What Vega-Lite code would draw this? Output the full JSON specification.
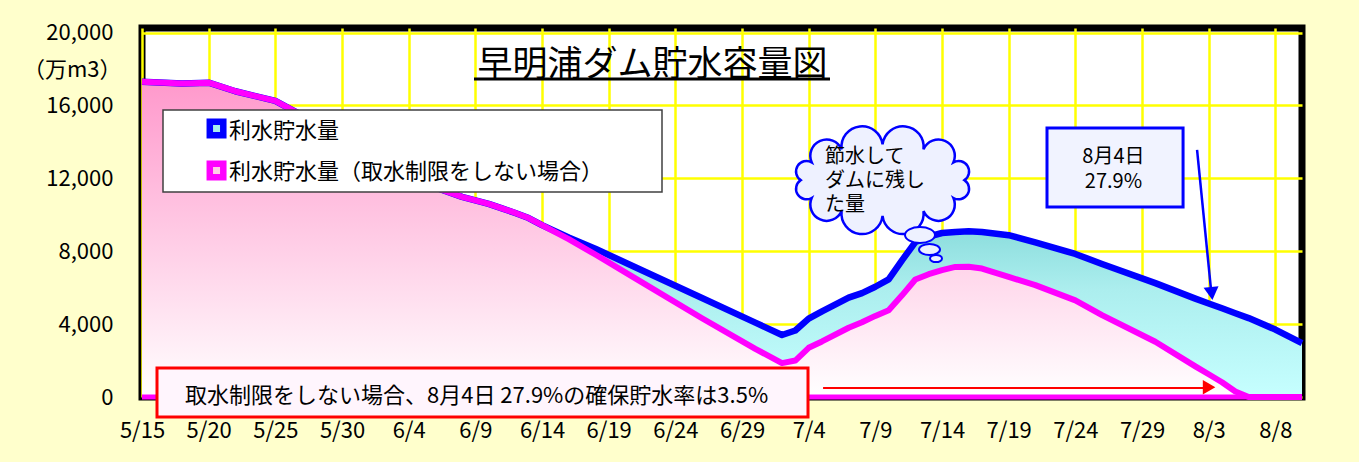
{
  "$schema": "https://vega.github.io/schema/vega-lite/v6.json",
  "width": 1160,
  "height": 369,
  "autosize": {"type": "none"},
  "padding": {"left": 142, "top": 28, "right": 57, "bottom": 65},
  "background": "#FFFFCC",
  "config": {
    "font": "Noto Sans CJK JP",
    "view": {"fill": "#FFFFFF", "stroke": "#000000", "strokeWidth": 7}
  },
  "datasets": {
    "storage": [
      {"date": "2005-05-15T00:00", "actual": 17300, "unrestricted": 17300},
      {"date": "2005-05-18T00:00", "actual": 17200, "unrestricted": 17200},
      {"date": "2005-05-20T00:00", "actual": 17250, "unrestricted": 17250},
      {"date": "2005-05-22T00:00", "actual": 16780, "unrestricted": 16780},
      {"date": "2005-05-25T00:00", "actual": 16250, "unrestricted": 16250},
      {"date": "2005-05-26T00:00", "actual": 15850, "unrestricted": 15850},
      {"date": "2005-05-31T00:00", "actual": 13900, "unrestricted": 13900},
      {"date": "2005-06-06T00:00", "actual": 11500, "unrestricted": 11500},
      {"date": "2005-06-08T00:00", "actual": 10980, "unrestricted": 10980},
      {"date": "2005-06-10T00:00", "actual": 10600, "unrestricted": 10600},
      {"date": "2005-06-11T00:00", "actual": 10350, "unrestricted": 10350},
      {"date": "2005-06-12T00:00", "actual": 10100, "unrestricted": 10100},
      {"date": "2005-06-13T00:00", "actual": 9820, "unrestricted": 9820},
      {"date": "2005-06-14T00:00", "actual": 9430, "unrestricted": 9430},
      {"date": "2005-06-16T00:00", "actual": 8750, "unrestricted": 8660},
      {"date": "2005-06-18T00:00", "actual": 8140, "unrestricted": 7820},
      {"date": "2005-06-21T00:00", "actual": 7120, "unrestricted": 6510},
      {"date": "2005-06-26T00:00", "actual": 5430, "unrestricted": 4320},
      {"date": "2005-06-30T00:00", "actual": 4080, "unrestricted": 2640},
      {"date": "2005-07-02T00:00", "actual": 3400, "unrestricted": 1860},
      {"date": "2005-07-03T00:00", "actual": 3650, "unrestricted": 2000},
      {"date": "2005-07-04T00:00", "actual": 4300, "unrestricted": 2700},
      {"date": "2005-07-05T00:00", "actual": 4700, "unrestricted": 3050},
      {"date": "2005-07-07T00:00", "actual": 5450, "unrestricted": 3800},
      {"date": "2005-07-08T00:00", "actual": 5700, "unrestricted": 4100},
      {"date": "2005-07-09T00:00", "actual": 6050, "unrestricted": 4450},
      {"date": "2005-07-10T00:00", "actual": 6450, "unrestricted": 4760},
      {"date": "2005-07-11T00:00", "actual": 7500, "unrestricted": 5580},
      {"date": "2005-07-12T00:00", "actual": 8500, "unrestricted": 6450},
      {"date": "2005-07-13T00:00", "actual": 8800, "unrestricted": 6740},
      {"date": "2005-07-14T00:00", "actual": 9000, "unrestricted": 6960},
      {"date": "2005-07-15T00:00", "actual": 9060, "unrestricted": 7140},
      {"date": "2005-07-16T00:00", "actual": 9090, "unrestricted": 7150},
      {"date": "2005-07-17T00:00", "actual": 9050, "unrestricted": 7050},
      {"date": "2005-07-19T00:00", "actual": 8880, "unrestricted": 6590},
      {"date": "2005-07-21T00:00", "actual": 8480, "unrestricted": 6140},
      {"date": "2005-07-24T00:00", "actual": 7850, "unrestricted": 5300},
      {"date": "2005-07-26T00:00", "actual": 7300, "unrestricted": 4490},
      {"date": "2005-07-30T00:00", "actual": 6250, "unrestricted": 3030},
      {"date": "2005-08-02T00:00", "actual": 5400, "unrestricted": 1680},
      {"date": "2005-08-03T00:00", "actual": 5130, "unrestricted": 1250},
      {"date": "2005-08-04T00:00", "actual": 4870, "unrestricted": 810},
      {"date": "2005-08-05T00:00", "actual": 4600, "unrestricted": 300},
      {"date": "2005-08-06T00:00", "actual": 4330, "unrestricted": 0},
      {"date": "2005-08-08T00:00", "actual": 3700, "unrestricted": 0},
      {"date": "2005-08-10T00:00", "actual": 2960, "unrestricted": 0}
    ]
  },
  "layer": [
    {
      "data": {"name": "storage"},
      "transform": [{"filter": {"field": "date", "gte": {"year": 2005, "month": 6, "date": 13}}}],
      "mark": {"type": "area", "fill": {"gradient": "linear", "x1": 0, "y1": 0, "x2": 0, "y2": 1, "stops": [{"offset": 0, "color": "#86DADA"}, {"offset": 0.4, "color": "#ACEEEE"}, {"offset": 1, "color": "#C6FFFF"}]}},
      "encoding": {
        "x": {
          "field": "date", "type": "temporal",
          "scale": {"domain": [{"year": 2005, "month": 5, "date": 15}, {"year": 2005, "month": 8, "date": 10}]},
          "axis": {
            "title": null, "format": "%-m/%-d", "labelOverlap": false,
            "values": [
              {"year": 2005, "month": 5, "date": 15}, {"year": 2005, "month": 5, "date": 20},
              {"year": 2005, "month": 5, "date": 25}, {"year": 2005, "month": 5, "date": 30},
              {"year": 2005, "month": 6, "date": 4}, {"year": 2005, "month": 6, "date": 9},
              {"year": 2005, "month": 6, "date": 14}, {"year": 2005, "month": 6, "date": 19},
              {"year": 2005, "month": 6, "date": 24}, {"year": 2005, "month": 6, "date": 29},
              {"year": 2005, "month": 7, "date": 4}, {"year": 2005, "month": 7, "date": 9},
              {"year": 2005, "month": 7, "date": 14}, {"year": 2005, "month": 7, "date": 19},
              {"year": 2005, "month": 7, "date": 24}, {"year": 2005, "month": 7, "date": 29},
              {"year": 2005, "month": 8, "date": 3}, {"year": 2005, "month": 8, "date": 8}
            ],
            "grid": true, "gridColor": "#FFFF00", "gridWidth": 2.5, "gridOpacity": 1,
            "ticks": false, "domain": false,
            "labelFontSize": 22, "labelColor": "#000000", "labelPadding": 23, "labelFlush": false
          }
        },
        "y": {
          "field": "actual", "type": "quantitative",
          "scale": {"domain": [0, 20250], "nice": false},
          "axis": {
            "title": "（万m3）", "titleAngle": 0, "titleAlign": "right", "titleBaseline": "middle",
            "titleX": -21, "titleY": 41, "titleFontSize": 22, "titleFontWeight": "normal", "titleColor": "#000000",
            "values": [0, 4000, 8000, 12000, 16000, 20000], "format": ",d",
            "grid": true, "gridColor": "#FFFF00", "gridWidth": 2.5, "gridOpacity": 1,
            "ticks": false, "domain": false,
            "labelFontSize": 22, "labelColor": "#000000", "labelPadding": 29
          }
        },
        "y2": {"field": "unrestricted"}
      }
    },
    {
      "data": {"name": "storage"},
      "mark": {"type": "area", "fill": {"gradient": "linear", "x1": 0, "y1": 0, "x2": 0, "y2": 1, "stops": [{"offset": 0, "color": "#FF99CC"}, {"offset": 1, "color": "#FFFFFF"}]}},
      "encoding": {
        "x": {"field": "date", "type": "temporal"},
        "y": {"field": "unrestricted", "type": "quantitative"}
      }
    },
    {
      "data": {"values": [{}]},
      "mark": {"type": "rule", "color": "#FF00FF", "strokeWidth": 5},
      "encoding": {"y": {"datum": 0, "type": "quantitative"}}
    },
    {
      "data": {"name": "storage"},
      "mark": {"type": "line", "color": "#0000FF", "strokeWidth": 6.5, "strokeJoin": "round"},
      "encoding": {
        "x": {"field": "date", "type": "temporal"},
        "y": {"field": "actual", "type": "quantitative"}
      }
    },
    {
      "data": {"name": "storage"},
      "mark": {"type": "line", "color": "#FF00FF", "strokeWidth": 6, "strokeJoin": "round"},
      "encoding": {
        "x": {"field": "date", "type": "temporal"},
        "y": {"field": "unrestricted", "type": "quantitative"}
      }
    },
    {
      "data": {"values": [{}]},
      "mark": {"type": "text", "text": "早明浦ダム貯水容量図", "fontSize": 35, "align": "center", "baseline": "middle", "color": "#000000"},
      "encoding": {
        "x": {"datum": {"year": 2005, "month": 6, "date": 22, "hours": 7}, "type": "temporal"},
        "y": {"datum": 18200, "type": "quantitative"}
      }
    },
    {
      "data": {"values": [{}]},
      "mark": {"type": "rule", "color": "#000000", "strokeWidth": 3},
      "encoding": {
        "x": {"datum": {"year": 2005, "month": 6, "date": 8, "hours": 21, "minutes": 36}, "type": "temporal"},
        "x2": {"datum": {"year": 2005, "month": 7, "date": 5, "hours": 14, "minutes": 24}},
        "y": {"datum": 17450, "type": "quantitative"}
      }
    },
    {
      "data": {"values": [{}]},
      "mark": {"type": "rect", "fill": "#FFFFFF", "stroke": "#404040", "strokeWidth": 1.5},
      "encoding": {
        "x": {"datum": {"year": 2005, "month": 5, "date": 16, "hours": 13, "minutes": 48}, "type": "temporal"},
        "x2": {"datum": {"year": 2005, "month": 6, "date": 23}},
        "y": {"datum": 15750, "type": "quantitative"},
        "y2": {"datum": 11250}
      }
    },
    {
      "data": {"values": [{}]},
      "mark": {"type": "point", "shape": "square", "filled": true, "size": 400, "color": "#0000FF", "opacity": 1},
      "encoding": {
        "x": {"datum": {"year": 2005, "month": 5, "date": 20, "hours": 14, "minutes": 10}, "type": "temporal"},
        "y": {"datum": 14735, "type": "quantitative"}
      }
    },
    {
      "data": {"values": [{}]},
      "mark": {"type": "point", "shape": "square", "filled": true, "size": 49, "color": "#A8EEEE", "opacity": 1},
      "encoding": {
        "x": {"datum": {"year": 2005, "month": 5, "date": 20, "hours": 14, "minutes": 10}, "type": "temporal"},
        "y": {"datum": 14735, "type": "quantitative"}
      }
    },
    {
      "data": {"values": [{}]},
      "mark": {"type": "point", "shape": "square", "filled": true, "size": 400, "color": "#FF00FF", "opacity": 1},
      "encoding": {
        "x": {"datum": {"year": 2005, "month": 5, "date": 20, "hours": 14, "minutes": 10}, "type": "temporal"},
        "y": {"datum": 12430, "type": "quantitative"}
      }
    },
    {
      "data": {"values": [{}]},
      "mark": {"type": "point", "shape": "square", "filled": true, "size": 49, "color": "#FFCCE6", "opacity": 1},
      "encoding": {
        "x": {"datum": {"year": 2005, "month": 5, "date": 20, "hours": 14, "minutes": 10}, "type": "temporal"},
        "y": {"datum": 12430, "type": "quantitative"}
      }
    },
    {
      "data": {"values": [{}]},
      "mark": {"type": "text", "text": "利水貯水量", "fontSize": 22, "align": "left", "baseline": "middle", "color": "#000000"},
      "encoding": {
        "x": {"datum": {"year": 2005, "month": 5, "date": 21, "hours": 12, "minutes": 36}, "type": "temporal"},
        "y": {"datum": 14580, "type": "quantitative"}
      }
    },
    {
      "data": {"values": [{}]},
      "mark": {"type": "text", "text": "利水貯水量（取水制限をしない場合）", "fontSize": 22, "align": "left", "baseline": "middle", "color": "#000000"},
      "encoding": {
        "x": {"datum": {"year": 2005, "month": 5, "date": 21, "hours": 12, "minutes": 36}, "type": "temporal"},
        "y": {"datum": 12330, "type": "quantitative"}
      }
    },
    {
      "data": {"values": [{}]},
      "mark": {"type": "point", "shape": "M-0.78,0A0.1,0.1 0 0 1 -0.675,-0.17A0.1,0.1 0 0 1 -0.39,-0.294A0.1,0.1 0 0 1 0,-0.34A0.1,0.1 0 0 1 0.39,-0.294A0.1,0.1 0 0 1 0.675,-0.17A0.1,0.1 0 0 1 0.78,0A0.1,0.1 0 0 1 0.675,0.17A0.1,0.1 0 0 1 0.39,0.294A0.1,0.1 0 0 1 0,0.34A0.1,0.1 0 0 1 -0.39,0.294A0.1,0.1 0 0 1 -0.675,0.17A0.1,0.1 0 0 1 -0.78,0Z", "filled": true, "size": 44100, "fill": "#EEF1FF", "stroke": "#0000FF", "strokeWidth": 2.5, "opacity": 1, "fillOpacity": 1},
      "encoding": {
        "x": {"datum": {"year": 2005, "month": 7, "date": 9, "hours": 13}, "type": "temporal"},
        "y": {"datum": 11900, "type": "quantitative"}
      }
    },
    {
      "data": {"values": [{}]},
      "mark": {"type": "point", "shape": "M-1,0A1,0.53 0 1 1 1,0A1,0.53 0 1 1 -1,0Z", "filled": true, "size": 900, "fill": "#EEF1FF", "stroke": "#0000FF", "strokeWidth": 2, "opacity": 1},
      "encoding": {
        "x": {"datum": {"year": 2005, "month": 7, "date": 12, "hours": 8, "minutes": 24}, "type": "temporal"},
        "y": {"datum": 8890, "type": "quantitative"}
      }
    },
    {
      "data": {"values": [{}]},
      "mark": {"type": "point", "shape": "M-1,0A1,0.53 0 1 1 1,0A1,0.53 0 1 1 -1,0Z", "filled": true, "size": 441, "fill": "#EEF1FF", "stroke": "#0000FF", "strokeWidth": 2, "opacity": 1},
      "encoding": {
        "x": {"datum": {"year": 2005, "month": 7, "date": 13, "hours": 1, "minutes": 30}, "type": "temporal"},
        "y": {"datum": 8095, "type": "quantitative"}
      }
    },
    {
      "data": {"values": [{}]},
      "mark": {"type": "point", "shape": "M-1,0A1,0.6 0 1 1 1,0A1,0.6 0 1 1 -1,0Z", "filled": true, "size": 144, "fill": "#EEF1FF", "stroke": "#0000FF", "strokeWidth": 2, "opacity": 1},
      "encoding": {
        "x": {"datum": {"year": 2005, "month": 7, "date": 13, "hours": 13, "minutes": 12}, "type": "temporal"},
        "y": {"datum": 7600, "type": "quantitative"}
      }
    },
    {
      "data": {"values": [{}]},
      "mark": {"type": "text", "text": ["節水して", "ダムに残し", "た量"], "fontSize": 20, "lineHeight": 24, "align": "left", "baseline": "top", "color": "#000000"},
      "encoding": {
        "x": {"datum": {"year": 2005, "month": 7, "date": 5, "hours": 5, "minutes": 24}, "type": "temporal"},
        "y": {"datum": 13720, "type": "quantitative"}
      }
    },
    {
      "data": {"values": [{}]},
      "mark": {"type": "rect", "fill": "#F1F3FF", "stroke": "#0000FF", "strokeWidth": 3},
      "encoding": {
        "x": {"datum": {"year": 2005, "month": 7, "date": 21, "hours": 21}, "type": "temporal"},
        "x2": {"datum": {"year": 2005, "month": 8, "date": 1, "hours": 1, "minutes": 55}},
        "y": {"datum": 14760, "type": "quantitative"},
        "y2": {"datum": 10430}
      }
    },
    {
      "data": {"values": [{}]},
      "mark": {"type": "text", "text": ["8月4日", "27.9%"], "fontSize": 20, "lineHeight": 25, "align": "center", "baseline": "top", "color": "#000000"},
      "encoding": {
        "x": {"datum": {"year": 2005, "month": 7, "date": 26, "hours": 20, "minutes": 38}, "type": "temporal"},
        "y": {"datum": 13720, "type": "quantitative"}
      }
    },
    {
      "data": {"values": [{}]},
      "mark": {"type": "rule", "color": "#0000FF", "strokeWidth": 2.5},
      "encoding": {
        "x": {"datum": {"year": 2005, "month": 8, "date": 2, "hours": 3, "minutes": 7}, "type": "temporal"},
        "y": {"datum": 13555, "type": "quantitative"},
        "x2": {"datum": {"year": 2005, "month": 8, "date": 3, "hours": 4, "minutes": 19}},
        "y2": {"datum": 5870}
      }
    },
    {
      "data": {"values": [{}]},
      "mark": {"type": "point", "shape": "triangle-down", "filled": true, "size": 225, "angle": -6, "color": "#0000FF", "opacity": 1},
      "encoding": {
        "x": {"datum": {"year": 2005, "month": 8, "date": 3, "hours": 5, "minutes": 31}, "type": "temporal"},
        "y": {"datum": 5680, "type": "quantitative"}
      }
    },
    {
      "data": {"values": [{}]},
      "mark": {"type": "rect", "fill": "#FFF5FD", "stroke": "#FF0000", "strokeWidth": 3},
      "encoding": {
        "x": {"datum": {"year": 2005, "month": 5, "date": 16, "hours": 3}, "type": "temporal"},
        "x2": {"datum": {"year": 2005, "month": 7, "date": 3, "hours": 22, "minutes": 48}},
        "y": {"datum": 1590, "type": "quantitative"},
        "y2": {"datum": -1100}
      }
    },
    {
      "data": {"values": [{}]},
      "mark": {"type": "text", "text": "取水制限をしない場合、8月4日 27.9%の確保貯水率は3.5%", "fontSize": 22, "align": "left", "baseline": "middle", "color": "#000000"},
      "encoding": {
        "x": {"datum": {"year": 2005, "month": 5, "date": 18, "hours": 5, "minutes": 24}, "type": "temporal"},
        "y": {"datum": 60, "type": "quantitative"}
      }
    },
    {
      "data": {"values": [{}]},
      "mark": {"type": "rule", "color": "#FF0000", "strokeWidth": 2},
      "encoding": {
        "x": {"datum": {"year": 2005, "month": 7, "date": 5, "hours": 1, "minutes": 55}, "type": "temporal"},
        "x2": {"datum": {"year": 2005, "month": 8, "date": 2, "hours": 13, "minutes": 55}},
        "y": {"datum": 490, "type": "quantitative"}
      }
    },
    {
      "data": {"values": [{}]},
      "mark": {"type": "point", "shape": "triangle-right", "filled": true, "size": 210, "color": "#FF0000", "opacity": 1},
      "encoding": {
        "x": {"datum": {"year": 2005, "month": 8, "date": 3, "hours": 0, "minutes": 43}, "type": "temporal"},
        "y": {"datum": 540, "type": "quantitative"}
      }
    }
  ]
}
